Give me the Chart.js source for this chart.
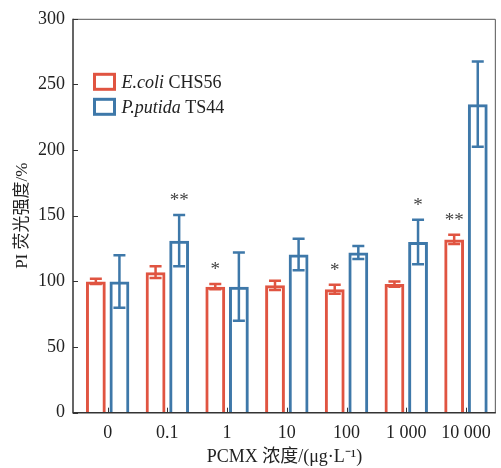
<!DOCTYPE html>
<html>
<head>
<meta charset="utf-8">
<script src="https://cdn.jsdelivr.net/npm/chart.js@4.4.1/dist/chart.umd.min.js"></script>
<style>
  html, body { margin: 0; padding: 0; background: #fff; }
  #wrap { width: 501px; height: 468px; }
</style>
</head>
<body>
<div id="wrap"><canvas id="c" width="501" height="468"></canvas></div>
<script>
// ── Data ───────────────────────────────────────────────────────────────────
const categories  = ['0', '0.1', '1', '10', '100', '1 000', '10 000'];
const ecoliMean   = [100, 107, 96, 97, 94, 98, 132];
const ecoliErr    = [2, 4.5, 2, 3.5, 3.5, 2, 3.5];
const putidaMean  = [100, 131, 96, 120.5, 122, 130, 235];
const putidaErr   = [20, 19.5, 26, 12, 5, 17, 32.5];
const ecoliSig    = ['', '', '*', '', '*', '', '**'];
const putidaSig   = ['', '**', '', '', '', '*', ''];
const yTicks      = [0, 50, 100, 150, 200, 250, 300];

const RED  = '#E05441';
const BLUE = '#3E78A9';
const SERIF = '"Liberation Serif", "Times New Roman", "Noto Sans CJK SC", serif';

const errs = [ecoliErr, putidaErr];
const sigs = [ecoliSig, putidaSig];

// ── Plugins ────────────────────────────────────────────────────────────────
const decorations = {
  id: 'decorations',
  afterDatasetsDraw(chart) {
    const { ctx, chartArea: a, scales: { x, y } } = chart;
    ctx.save();

    // error bars + significance stars
    chart.data.datasets.forEach((ds, di) => {
      const meta = chart.getDatasetMeta(di);
      meta.data.forEach((bar, i) => {
        const m = ds.data[i].y, e = errs[di][i];
        const top = y.getPixelForValue(m + e);
        const bot = y.getPixelForValue(m - e);
        ctx.strokeStyle = ds.borderColor;
        ctx.lineWidth = 2.5;
        ctx.beginPath();
        ctx.moveTo(bar.x, top); ctx.lineTo(bar.x, bot);
        ctx.moveTo(bar.x - 6, top); ctx.lineTo(bar.x + 6, top);
        ctx.moveTo(bar.x - 6, bot); ctx.lineTo(bar.x + 6, bot);
        ctx.stroke();
        const s = sigs[di][i];
        if (s) {
          ctx.fillStyle = '#444';
          ctx.font = '19px ' + SERIF;
          ctx.textAlign = 'center';
          ctx.textBaseline = 'alphabetic';
          ctx.fillText(s, bar.x, top - 9);
        }
      });
    });

    // frame
    ctx.strokeStyle = '#555';
    ctx.lineWidth = 1;
    ctx.beginPath();
    ctx.moveTo(a.left, a.top + 0.5); ctx.lineTo(a.right - 0.5, a.top + 0.5);
    ctx.lineTo(a.right - 0.5, a.bottom);
    ctx.stroke();
    ctx.strokeStyle = '#333';
    ctx.lineWidth = 1.5;
    ctx.beginPath();
    ctx.moveTo(a.left, a.top); ctx.lineTo(a.left, a.bottom); ctx.lineTo(a.right, a.bottom);
    ctx.stroke();

    // inward ticks
    ctx.lineWidth = 1;
    ctx.beginPath();
    yTicks.forEach(v => {
      const py = Math.round(y.getPixelForValue(v)) + 0.5;
      ctx.moveTo(a.left, py); ctx.lineTo(a.left + 5, py);
    });
    categories.forEach((c, i) => {
      const px = Math.round(x.getPixelForValue(i)) + 0.5;
      ctx.moveTo(px, a.bottom); ctx.lineTo(px, a.bottom - 5);
    });
    ctx.stroke();

    // legend (mixed italic / roman)
    const items = [
      { color: RED,  it: 'E.coli',   rest: ' CHS56' },
      { color: BLUE, it: 'P.putida', rest: ' TS44' },
    ];
    items.forEach((it, k) => {
      const bx = a.left + 21.5, by = a.top + 55.5 + k * 25;
      ctx.strokeStyle = it.color;
      ctx.lineWidth = 3;
      ctx.strokeRect(bx, by, 20, 15);
      ctx.fillStyle = '#222';
      ctx.textAlign = 'left';
      ctx.textBaseline = 'alphabetic';
      ctx.font = 'italic 18px ' + SERIF;
      const tx = bx + 27, ty = by + 14;
      ctx.fillText(it.it, tx, ty);
      const w = ctx.measureText(it.it).width;
      ctx.font = '18px ' + SERIF;
      ctx.fillText(it.rest, tx + w, ty);
    });

    ctx.restore();
  }
};

// ── Chart ──────────────────────────────────────────────────────────────────
const toPts = arr => arr.map((v, i) => ({ x: i, y: v }));

new Chart(document.getElementById('c').getContext('2d'), {
  type: 'bar',
  data: {
    datasets: [
      { label: 'E.coli CHS56', data: toPts(ecoliMean), borderColor: RED,
        backgroundColor: 'rgba(255,255,255,0)', borderWidth: 3 },
      { label: 'P.putida TS44', data: toPts(putidaMean), borderColor: BLUE,
        backgroundColor: 'rgba(255,255,255,0)', borderWidth: 3 },
    ]
  },
  options: {
    responsive: false,
    animation: false,
    categoryPercentage: 0.79,
    barPercentage: 0.84,
    layout: { padding: { top: 16, right: 4, left: 0, bottom: 0 } },
    plugins: { legend: { display: false }, tooltip: { enabled: false } },
    scales: {
      x: {
        type: 'linear',
        offset: false,
        min: -0.58, max: 6.5,
        afterBuildTicks: s => { s.ticks = categories.map((c, i) => ({ value: i })); },
        afterFit: s => { s.height = 55.3; },
        grid: { display: false, drawTicks: false, offset: false },
        border: { display: false },
        ticks: {
          padding: 10, color: '#222', font: { family: SERIF, size: 18 },
          callback: v => categories[v]
        },
        title: {
          display: true, text: 'PCMX 浓度/(μg·L⁻¹)', color: '#222',
          font: { family: SERIF, size: 18 }, padding: { top: 2, bottom: 0 }
        }
      },
      y: {
        min: 0, max: 300,
        afterBuildTicks: s => { s.ticks = yTicks.map(v => ({ value: v })); },
        afterFit: s => { s.width = 73; },
        grid: { display: false, drawTicks: false },
        border: { display: false },
        ticks: { padding: 8, color: '#222', font: { family: SERIF, size: 18 } },
        title: {
          display: true, text: 'PI 荧光强度/%', color: '#222',
          font: { family: SERIF, size: 17 }, padding: { top: 12, bottom: 0 }
        }
      }
    }
  },
  plugins: [decorations]
});
</script>
</body>
</html>
